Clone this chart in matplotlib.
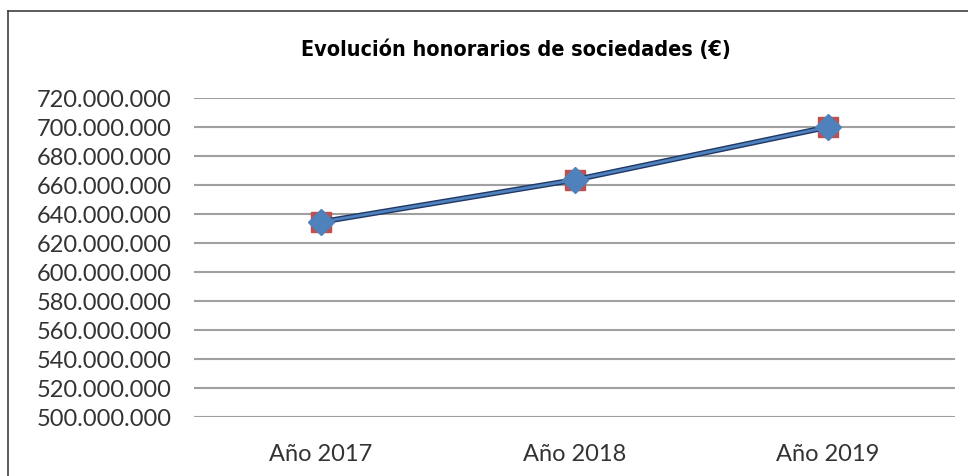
import matplotlib.pyplot as plt
from matplotlib.lines import Line2D
from matplotlib.ticker import FuncFormatter

categories = ['Año 2017', 'Año 2018', 'Año 2019']
honorarios = [634500000, 663500000, 700000000]
yticks = list(range(500000000, 720000001, 20000000))

W, H = 968, 477
fig = plt.figure(figsize=(W / 100, H / 100), dpi=100)
ax = fig.add_axes([194 / W, 1 - 418 / H, (955 - 194) / W, (418 - 99) / H])

x = list(range(len(categories)))
ax.plot(x, honorarios, linestyle='none', marker='s', markersize=15,
        color='#c0504d', zorder=3)
ax.plot(x, honorarios, color='#1f3864', linewidth=4, zorder=4)
ax.plot(x, honorarios, color='#4f81bd', linewidth=2, marker='D',
        markersize=13, zorder=5)

ax.set_xlim(-0.5, 2.5)
ax.set_ylim(500000000, 720000000)
ax.set_yticks(yticks)
ax.yaxis.set_major_formatter(FuncFormatter(lambda v, p: f'{int(v):,}'.replace(',', '.')))
ax.set_xticks(x)
ax.set_xticklabels(categories)
ax.grid(axis='y', color='#a0a0a0', linewidth=1.5)
ax.set_axisbelow(True)
for s in ax.spines.values():
    s.set_visible(False)
ax.tick_params(length=0, labelsize=17, colors='#333333', labelfontfamily='Lato')
ax.tick_params(axis='y', pad=16)
ax.tick_params(axis='x', pad=19)

fig.text(0.533, 1 - 50 / H, 'Evolución honorarios de sociedades (€)', ha='center',
         va='center', fontsize=15.5, fontweight='bold', fontstretch='condensed',
         family=['DejaVu Sans'])

fig.add_artist(Line2D([8 / W, 1], [1 - 12 / H, 1 - 12 / H], color='#404040', linewidth=1.2))
fig.add_artist(Line2D([8 / W, 8 / W], [0, 1 - 12 / H], color='#404040', linewidth=1.2))

fig.savefig('out.png', dpi=100)
